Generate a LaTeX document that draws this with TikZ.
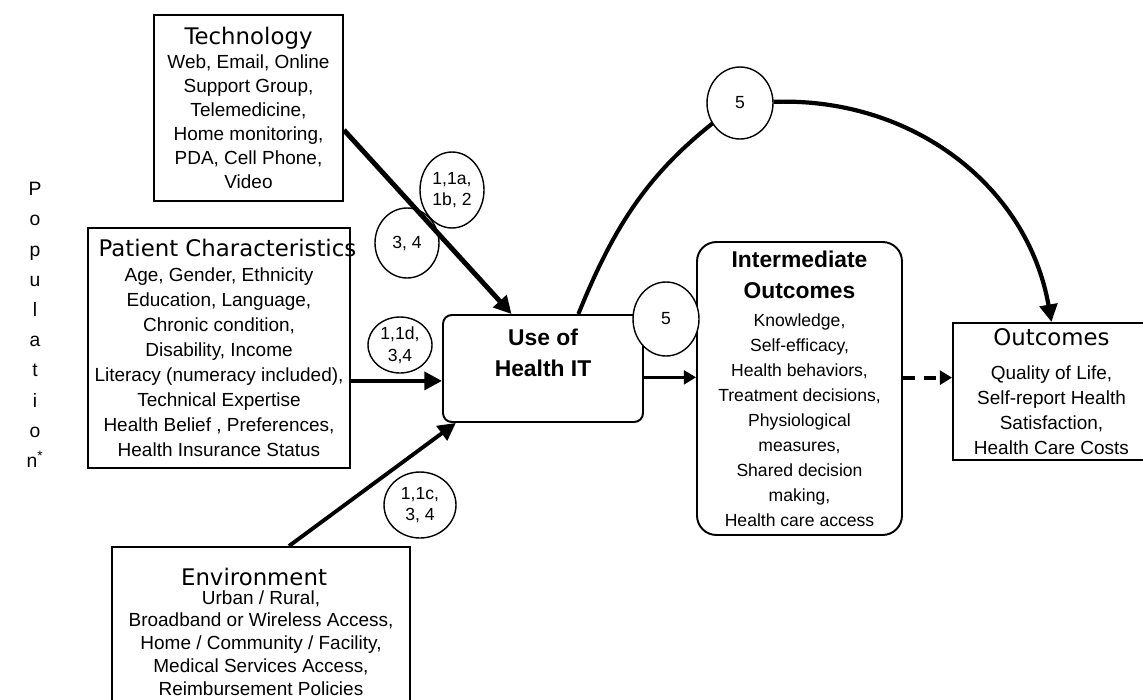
\documentclass[tikz,border=0pt]{standalone}
\usepackage{fontspec}
\setmainfont{Liberation Sans}
\newfontfamily\headfont{DejaVu Sans}
\usepackage{tikz}
\usetikzlibrary{arrows.meta,%
                shapes.geometric}
\newcommand{\boxhead}[1]{{\headfont\fontsize{13}{15}\selectfont #1}}

\begin{document}
\begin{tikzpicture}[x=0.02cm,y=-0.02cm]
		\tikzstyle{Box}=[draw,line width=1.1pt,align=center,inner sep=0pt,font=\fontsize{10.8}{14.2}\selectfont]
		\tikzstyle{RBox}=[Box,rounded corners=6pt,font=\fontsize{10}{14.2}\selectfont]
		\tikzstyle{Num}=[draw,ellipse,line width=0.8pt,fill=white,inner sep=0pt,align=center,font=\fontsize{10}{12.3}\selectfont]
		\tikzstyle{Link}=[line width=2.4pt,-{Triangle[length=10pt,width=10pt]}]
		\tikzstyle{ThinLink}=[line width=1.4pt,-{Triangle[length=7pt,width=8pt]}]
		\useasboundingbox (0,0) rectangle (1143,700);
		% left column
		\node[align=center,font=\fontsize{11}{17.2}\selectfont] (pop) at (35,325)
			{P\\o\\p\\u\\l\\a\\t\\i\\o\\n\textsuperscript{*}};
		% boxes
		\node[Box,minimum width=3.78cm,minimum height=3.72cm,font=\fontsize{10.8}{13.6}\selectfont] (tech) at (248.5,108)
			{\boxhead{Technology}\\ Web, Email, Online\\ Support Group,\\ Telemedicine,\\ Home monitoring,\\ PDA, Cell Phone,\\ Video};
		\node[Box,minimum width=5.24cm,minimum height=4.8cm] (pat) at (219,348)
			{\boxhead{\makebox[0pt]{\hspace{0.34cm}Patient Characteristics}}\\ Age, Gender, Ethnicity\\ Education, Language,\\ Chronic condition,\\ Disability, Income\\ Literacy (numeracy included),\\ Technical Expertise\\ Health Belief , Preferences,\\ Health Insurance Status};
		\node[Box,minimum width=5.96cm,minimum height=3.4cm,font=\fontsize{10.8}{13}\selectfont] (env) at (261,632)
			{\boxhead{\makebox[0pt]{Environment\hspace{0.28cm}}}\\[-2.5pt] Urban / Rural,\\ Broadband or Wireless Access,\\ Home / Community / Facility,\\ Medical Services Access,\\ Reimbursement Policies};
		\node[RBox,rounded corners=5pt,minimum width=4cm,minimum height=2.14cm,font=\bfseries\fontsize{13}{18}\selectfont] (use) at (543,368.5)
			{Use of\\ Health IT\\ \mbox{}};
		\node[RBox,rounded corners=11pt,minimum width=4.1cm,minimum height=5.86cm] (inter) at (799.5,388.5)
			{{\bfseries\fontsize{13}{15}\selectfont Intermediate}\\[3.8pt] {\bfseries\fontsize{13}{15}\selectfont Outcomes}\\[1.7pt] Knowledge,\\ Self-efficacy,\\ Health behaviors,\\ Treatment decisions,\\ Physiological\\ measures,\\ Shared decision\\ making,\\ Health care access};
		\node[Box,minimum width=3.94cm,minimum height=2.74cm] (out) at (1051.5,391.5)
			{\boxhead{Outcomes}\\[5.6pt] Quality of Life,\\ Self-report Health\\ Satisfaction,\\ Health Care Costs};
		% arc over the top
		\draw[line width=2.3pt] (use.57) to[out=68,in=215] (740,103);
		\node[Num,minimum width=1.32cm,minimum height=1.44cm] (c5top) at (740,103) {5};
		\draw[Link] (c5top) to[out=2,in=100] (out.north);
		% numbered circles
		\node[Num,minimum width=1.28cm,minimum height=1.52cm] (c1a) at (452,190) {1,1a,\\ 1b, 2};
		\node[Num,minimum width=1.28cm,minimum height=1.4cm] (c34) at (407,243) {3, 4};
		\node[Num,minimum width=1.28cm,minimum height=1.12cm] (c1d) at (400,345) {1,1d,\\ 3,4};
		\node[Num,minimum width=1.44cm,minimum height=1.32cm] (c1c) at (420,505) {1,1c,\\ 3, 4};
		\node[Num,minimum width=1.32cm,minimum height=1.48cm] (c5mid) at (666,319) {5};
		% links
		\draw[Link,line width=2.8pt] (tech.-13) -- (use.120);
		\draw[Link] (pat.-14.5) -- (pat.-14.5 -| use.west);
		\draw[Link,line width=2.2pt] (env.72) -- (use.212);
		\draw[ThinLink] (use.-5) -- (use.-5 -| inter.west);
		\draw[ThinLink,line width=2.2pt,dash pattern=on 7pt off 5pt] (inter.6) -- (inter.6 -| out.west);
	\end{tikzpicture}
\end{document}
